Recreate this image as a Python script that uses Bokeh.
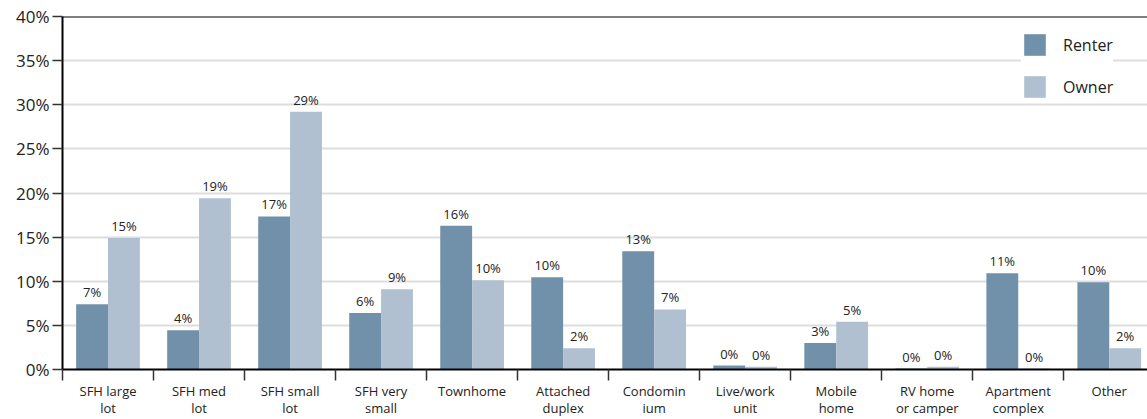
from bokeh.plotting import figure
from bokeh.models import (ColumnDataSource, Range1d, FixedTicker, LinearAxis, Span, Grid,
                          Legend, LegendItem, LabelSet, PrintfTickFormatter)
from bokeh.core.properties import value
from bokeh.transform import dodge
from bokeh.embed import file_html
from bokeh.resources import INLINE

# ---- data ----
categories = ["SFH large\nlot", "SFH med\nlot", "SFH small\nlot", "SFH very\nsmall",
              "Townhome", "Attached\nduplex", "Condomin\nium", "Live/work\nunit",
              "Mobile\nhome", "RV home\nor camper", "Apartment\ncomplex", "Other"]
renter = [7.4, 4.45, 17.35, 6.4, 16.3, 10.45, 13.4, 0.45, 3.0, 0.1, 10.9, 9.9]
owner = [14.9, 19.4, 29.2, 9.1, 10.1, 2.4, 6.8, 0.3, 5.4, 0.3, 0.1, 2.4]
series_names = ["Renter", "Owner"]
y_ticks = [0, 5, 10, 15, 20, 25, 30, 35, 40]

RENTER_COLOR = "#7190a9"
OWNER_COLOR = "#b0c0d1"
FONT = "Open Sans"

n = len(categories)
xs = [i + 0.5 for i in range(n)]
bounds = [i for i in range(n + 1)]

src = ColumnDataSource(dict(
    x=xs, renter=renter, owner=owner,
    renter_lbl=[f"{v:.0f}%" for v in renter],
    owner_lbl=[f"{v:.0f}%" for v in owner],
))

p = figure(width=1147, height=419, output_backend="svg", toolbar_location=None,
           x_range=Range1d(0, 11.92), y_range=Range1d(0, 40),
           x_axis_type=None, y_axis_type=None,
           min_border_left=62, min_border_right=0, min_border_top=16, min_border_bottom=48)
p.outline_line_color = None
p.background_fill_color = "white"
p.border_fill_color = "white"

# y axis
yax = LinearAxis(ticker=FixedTicker(ticks=y_ticks), formatter=PrintfTickFormatter(format="%d%%"))
yax.axis_line_color = "black"
yax.axis_line_width = 2
yax.major_tick_line_color = "#333333"
yax.major_tick_line_width = 1.5
yax.major_tick_out = 10
yax.major_tick_in = 0
yax.minor_tick_line_color = None
yax.major_label_text_font = FONT
yax.major_label_text_font_size = "17px"
yax.major_label_text_color = "#222222"
yax.major_label_standoff = 3
p.add_layout(yax, "left")

# x axis: labels at category centres, tick marks at category boundaries
xax = LinearAxis(ticker=FixedTicker(ticks=xs, minor_ticks=bounds))
xax.major_label_overrides = {x: c for x, c in zip(xs, categories)}
xax.axis_line_color = "black"
xax.axis_line_width = 2
xax.major_tick_line_color = None
xax.major_tick_out = 0
xax.major_tick_in = 0
xax.minor_tick_line_color = "#333333"
xax.minor_tick_line_width = 1.5
xax.minor_tick_out = 11
xax.minor_tick_in = 0
xax.major_label_text_font = FONT
xax.major_label_text_font_size = "13px"
xax.major_label_text_color = "#222222"
xax.major_label_text_line_height = 0.95
xax.major_label_standoff = 1
p.add_layout(xax, "below")

# grid
g = Grid(dimension=1, ticker=FixedTicker(ticks=y_ticks))
g.grid_line_color = "#dddddd"
g.grid_line_width = 2
p.add_layout(g)

# top line
p.add_layout(Span(location=40, dimension="width", line_color="black", line_width=2, level="overlay"))

r1 = p.vbar(x=dodge("x", -0.175), top="renter", width=0.35, source=src,
            fill_color=RENTER_COLOR, line_color=None)
r2 = p.vbar(x=dodge("x", 0.175), top="owner", width=0.35, source=src,
            fill_color=OWNER_COLOR, line_color=None)

for key, off in (("renter", -0.175), ("owner", 0.175)):
    p.add_layout(LabelSet(x=dodge("x", off), y=key, text=key + "_lbl", source=src,
                          text_align="center", text_baseline="bottom", y_offset=3,
                          text_font=value(FONT), text_font_size="13px", text_color="#222222"))

legend = Legend(items=[LegendItem(label=series_names[0], renderers=[r1]),
                       LegendItem(label=series_names[1], renderers=[r2])],
                location=(959, 269))
legend.glyph_width = 27
legend.glyph_height = 27
legend.label_standoff = 15
legend.spacing = 15
legend.padding = 20
legend.border_line_color = None
legend.background_fill_color = "white"
legend.background_fill_alpha = 1
legend.label_text_font = FONT
legend.label_text_font_size = "16px"
legend.label_text_color = "#222222"
p.add_layout(legend)

open("out.html", "w").write(file_html(p, INLINE))
